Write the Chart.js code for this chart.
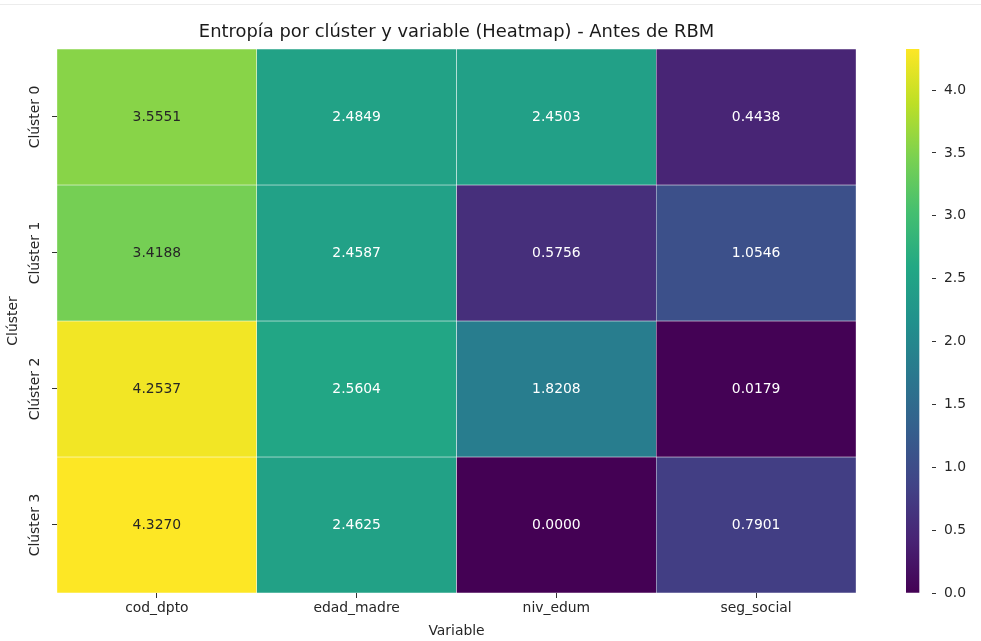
<!DOCTYPE html>
<html>
<head>
<meta charset="utf-8">
<script src="https://cdn.jsdelivr.net/npm/chart.js@4/dist/chart.umd.min.js"></script>
<style>
  html, body { margin: 0; padding: 0; background: #ffffff; }
  #wrap { position: relative; width: 981px; height: 641px; overflow: hidden; }
  #topline { position: absolute; left: 0; top: 4px; width: 981px; height: 1px; background: #ececec; }
  #heat { position: absolute; left: 0; top: 0; width: 900px; height: 641px; }
  #cbar { position: absolute; left: 880px; top: 0; width: 101px; height: 641px; }
</style>
</head>
<body>
<div id="wrap">
  <div id="topline"></div>
  <canvas id="heat" width="900" height="641"></canvas>
  <canvas id="cbar" width="101" height="641"></canvas>
</div>
<script>
// Entropy per cluster (rows) and variable (columns)
const variables = ['cod_dpto', 'edad_madre', 'niv_edum', 'seg_social'];
const clusters = ['Clúster 0', 'Clúster 1', 'Clúster 2', 'Clúster 3'];
const cluster0 = [3.5551, 2.4849, 2.4503, 0.4438];
const cluster1 = [3.4188, 2.4587, 0.5756, 1.0546];
const cluster2 = [4.2537, 2.5604, 1.8208, 0.0179];
const cluster3 = [4.3270, 2.4625, 0.0000, 0.7901];
const rows = [cluster0, cluster1, cluster2, cluster3];
const colorbarTicks = [0.0, 0.5, 1.0, 1.5, 2.0, 2.5, 3.0, 3.5, 4.0];

const vmin = 0;
const vmax = Math.max(...rows.flat());

const FONT = 'DejaVu Sans';
const TXT = '#262626';

// viridis colormap stops
const viridis = ['#440154', '#482475', '#414487', '#355f8d', '#2a788e', '#21918c',
                 '#22a884', '#44bf70', '#7ad151', '#bddf26', '#fde725'];
function hexRgb(h) {
  return [parseInt(h.slice(1, 3), 16), parseInt(h.slice(3, 5), 16), parseInt(h.slice(5, 7), 16)];
}
function cmapRgb(v) {
  let t = (v - vmin) / (vmax - vmin);
  t = Math.max(0, Math.min(1, t));
  const p = t * (viridis.length - 1);
  const i = Math.min(Math.floor(p), viridis.length - 2);
  const f = p - i;
  const a = hexRgb(viridis[i]), b = hexRgb(viridis[i + 1]);
  return a.map((c, k) => Math.round(c + (b[k] - c) * f));
}
function cmap(v) { const c = cmapRgb(v); return `rgb(${c[0]},${c[1]},${c[2]})`; }
function luminance(rgb) {
  const l = rgb.map(c => { c /= 255; return c <= 0.03928 ? c / 12.92 : Math.pow((c + 0.055) / 1.055, 2.4); });
  return 0.2126 * l[0] + 0.7152 * l[1] + 0.0722 * l[2];
}

// one floating-bar dataset per cluster row, spanning [row, row + 1] on the y scale
const datasets = rows.map((vals, r) => ({
  label: clusters[r],
  data: vals.map(() => [r, r + 1]),
  values: vals,
  stack: 'grid',
  backgroundColor: vals.map(cmap),
  borderColor: '#ffffff',
  borderWidth: 0.5,
  borderSkipped: false,
  barPercentage: 1,
  categoryPercentage: 1
}));

const cellLabels = {
  id: 'cellLabels',
  afterDatasetsDraw(chart) {
    const ctx = chart.ctx;
    ctx.save();
    ctx.font = `13.9px "${FONT}"`;
    ctx.textAlign = 'center';
    ctx.textBaseline = 'middle';
    chart.data.datasets.forEach((ds, di) => {
      chart.getDatasetMeta(di).data.forEach((el, i) => {
        const v = ds.values[i];
        ctx.fillStyle = luminance(cmapRgb(v)) > 0.408 ? TXT : '#ffffff';
        ctx.fillText(v.toFixed(4), el.x, (el.y + el.base) / 2);
      });
    });
    ctx.restore();
  }
};

new Chart(document.getElementById('heat'), {
  type: 'bar',
  data: { labels: variables, datasets },
  options: {
    responsive: false,
    animation: false,
    layout: { padding: { left: 0, right: 44, top: 0, bottom: 0 } },
    plugins: {
      legend: { display: false },
      tooltip: { enabled: false },
      title: {
        display: true,
        fullSize: false,
        text: 'Entropía por clúster y variable (Heatmap) - Antes de RBM',
        color: '#1a1a1a',
        font: { family: FONT, size: 17.9, weight: 'normal', lineHeight: 1.2 },
        padding: { top: 22, bottom: 5.5 }
      }
    },
    scales: {
      x: {
        stacked: true,
        offset: true,
        afterFit(s) { s.height = 48; },
        border: { display: false },
        grid: { offset: false, drawOnChartArea: false, drawTicks: true, tickLength: 5, color: '#333333' },
        ticks: { color: TXT, padding: 2, font: { family: FONT, size: 13.9 }, maxRotation: 0 },
        title: { display: true, text: 'Variable', color: TXT, font: { family: FONT, size: 13.9 }, padding: { top: 0, bottom: 1 } }
      },
      y: {
        stacked: false,
        reverse: true,
        min: 0,
        max: clusters.length,
        afterFit(s) { s.width = 57; },
        afterBuildTicks(s) { s.ticks = clusters.map((c, i) => ({ value: i + 0.5 })); },
        border: { display: false },
        grid: { drawOnChartArea: false, drawTicks: true, tickLength: 5, color: '#333333' },
        ticks: {
          color: TXT,
          font: { family: FONT, size: 13.9 },
          minRotation: 90, maxRotation: 90,
          crossAlign: 'center',
          padding: -15,
          callback(v, i) { return clusters[i]; }
        },
        title: { display: true, text: 'Clúster', color: TXT, font: { family: FONT, size: 13.9 }, padding: { top: 5, bottom: 0 } }
      }
    }
  },
  plugins: [cellLabels]
});

// colour bar: a single floating bar from vmin to vmax filled with the colormap
new Chart(document.getElementById('cbar'), {
  type: 'bar',
  data: {
    labels: [''],
    datasets: [{
      data: [[vmin, vmax]],
      borderWidth: 0,
      barPercentage: 1,
      categoryPercentage: 1,
      backgroundColor(ctx) {
        const area = ctx.chart.chartArea;
        if (!area) return viridis[0];
        const g = ctx.chart.ctx.createLinearGradient(0, area.bottom, 0, area.top);
        viridis.forEach((c, i) => g.addColorStop(i / (viridis.length - 1), c));
        return g;
      }
    }]
  },
  options: {
    responsive: false,
    animation: false,
    layout: { padding: { left: 26, right: 0, top: 49, bottom: 48 } },
    plugins: { legend: { display: false }, tooltip: { enabled: false } },
    scales: {
      x: { display: false, offset: false },
      y: {
        position: 'right',
        min: vmin,
        max: vmax,
        afterFit(s) { s.width = 49; },
        afterBuildTicks(s) { s.ticks = colorbarTicks.map(v => ({ value: v })); },
        border: { display: false },
        grid: { drawOnChartArea: false, drawTicks: true, tickLength: 4, color: '#333333' },
        ticks: { color: TXT, padding: 8, font: { family: FONT, size: 13.9 }, callback(v) { return Number(v).toFixed(1); } }
      }
    }
  }
});
</script>
</body>
</html>
